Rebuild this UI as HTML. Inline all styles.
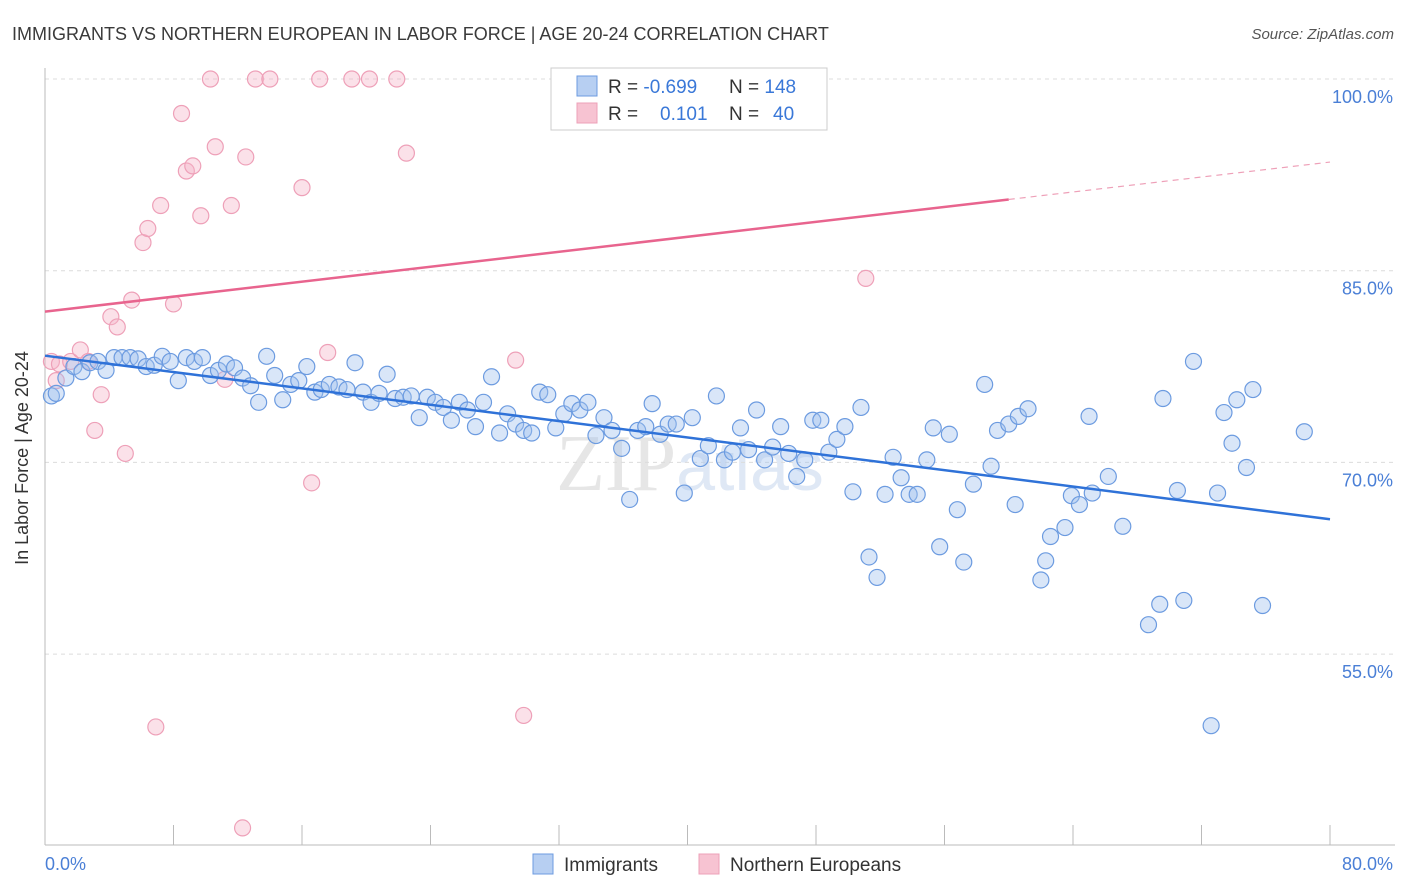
<!DOCTYPE html>
<html><head><meta charset="utf-8"><style>
body{margin:0;background:#fff;font-family:"Liberation Sans",sans-serif;}
#wrap{position:relative;width:1406px;height:892px;overflow:hidden;}
</style></head><body>
<div id="wrap">
<svg id="svg" width="1406" height="892" xmlns="http://www.w3.org/2000/svg">
<text x="12" y="40" font-size="18" fill="#3a3a3a">IMMIGRANTS VS NORTHERN EUROPEAN IN LABOR FORCE | AGE 20-24 CORRELATION CHART</text>
<text x="1394" y="39" font-size="15" fill="#555" font-style="italic" text-anchor="end">Source: ZipAtlas.com</text>
<text x="690" y="490" font-size="80" fill="#e6e6e6" text-anchor="middle" font-family="Liberation Serif,serif">ZIP<tspan fill="#dfe8f5" font-family="Liberation Sans,sans-serif" font-size="70">atlas</tspan></text>
<g id="grid"></g><g id="axes"></g><g id="pink"></g><g id="blue"></g><g id="trend"></g>
<text x="28" y="458" font-size="18" fill="#333" text-anchor="middle" transform="rotate(-90 28 458)">In Labor Force | Age 20-24</text>
<g>
<rect x="551" y="68" width="276" height="62" fill="#fff" stroke="#ccc"/>
<rect x="577" y="76" width="20" height="20" fill="#b7cff2" stroke="#6c9be0"/>
<rect x="577" y="103" width="20" height="20" fill="#f7c3d2" stroke="#eea0b8"/>
<text x="608" y="93" font-size="19" fill="#333">R = <tspan fill="#3a78d8">-0.699</tspan></text>
<text x="729" y="93" font-size="19" fill="#333">N = <tspan fill="#3a78d8">148</tspan></text>
<text x="608" y="120" font-size="19" fill="#333">R = <tspan fill="#3a78d8" x="660">0.101</tspan></text>
<text x="729" y="120" font-size="19" fill="#333">N = <tspan fill="#3a78d8" x="773">40</tspan></text>
</g>
<g>
<rect x="533" y="854" width="20" height="20" fill="#b7cff2" stroke="#6c9be0"/>
<text x="564" y="871" font-size="19" fill="#333">Immigrants</text>
<rect x="699" y="854" width="20" height="20" fill="#f7c3d2" stroke="#eea0b8"/>
<text x="730" y="871" font-size="19" fill="#333">Northern Europeans</text>
</g>
</svg></div>
<script>
const NS="http://www.w3.org/2000/svg";
const yTicks=[100,85,70,55];
const yTickLabels=["100.0%","85.0%","70.0%","55.0%"];
const xTicks=[8,16,24,32,40,48,56,64,72,80];
const blueX=[0.4,0.7,1.3,1.8,2.3,2.8,3.3,3.8,4.3,4.8,5.3,5.8,6.3,6.8,7.3,7.8,8.3,8.8,9.3,9.8,10.3,10.8,11.3,11.8,12.3,12.8,13.3,13.8,14.3,14.8,15.3,15.8,16.3,16.8,17.2,17.7,18.3,18.8,19.3,19.8,20.3,20.8,21.3,21.8,22.3,22.8,23.3,23.8,24.3,24.8,25.3,25.8,26.3,26.8,27.3,27.8,28.3,28.8,29.3,29.8,30.3,30.8,31.3,31.8,32.3,32.8,33.3,33.8,34.3,34.8,35.3,35.9,36.4,36.9,37.4,37.8,38.3,38.8,39.3,39.8,40.3,40.8,41.3,41.8,42.3,42.8,43.3,43.8,44.3,44.8,45.3,45.8,46.3,46.8,47.3,47.8,48.3,48.8,49.3,49.8,50.3,50.8,51.3,51.8,52.3,52.8,53.3,53.8,54.3,54.9,55.3,55.7,56.3,56.8,57.2,57.8,58.5,58.9,59.3,60.0,60.4,60.6,61.2,62.0,62.3,62.6,63.5,63.9,64.4,65.0,65.2,66.2,67.1,68.7,69.4,69.6,70.5,70.9,71.5,72.6,73.0,73.4,73.9,74.2,74.8,75.2,75.8,78.4];
const blueY=[75.2,75.4,76.6,77.5,77.1,77.8,77.9,77.2,78.2,78.2,78.2,78.1,77.5,77.6,78.3,77.9,76.4,78.2,77.9,78.2,76.8,77.2,77.7,77.4,76.6,76.0,74.7,78.3,76.8,74.9,76.1,76.4,77.5,75.5,75.7,76.1,75.9,75.7,77.8,75.5,74.7,75.4,76.9,75.0,75.1,75.2,73.5,75.1,74.7,74.3,73.3,74.7,74.1,72.8,74.7,76.7,72.3,73.8,73.0,72.5,72.3,75.5,75.3,72.7,73.8,74.6,74.1,74.7,72.1,73.5,72.5,71.1,67.1,72.5,72.8,74.6,72.2,73.0,73.0,67.6,73.5,70.3,71.3,75.2,70.2,70.8,72.7,71.0,74.1,70.2,71.2,72.8,70.7,68.9,70.2,73.3,73.3,70.8,71.8,72.8,67.7,74.3,62.6,61.0,67.5,70.4,68.8,67.5,67.5,70.2,72.7,63.4,72.2,66.3,62.2,68.3,76.1,69.7,72.5,73.0,66.7,73.6,74.2,60.8,62.3,64.2,64.9,67.4,66.7,73.6,67.6,68.9,65.0,57.3,58.9,75.0,67.8,59.2,77.9,49.4,67.6,73.9,71.5,74.9,69.6,75.7,58.8,72.4];
const pinkX=[0.4,0.7,0.9,1.6,2.2,2.7,3.1,3.5,4.1,4.5,5.0,5.4,6.1,6.4,6.9,7.2,8.0,8.5,8.8,9.2,9.7,10.3,10.6,11.2,11.6,12.3,12.5,13.1,14.0,16.0,16.6,17.1,17.6,19.1,20.2,21.9,22.5,29.3,29.8,51.1];
const pinkY=[77.9,76.4,77.7,77.9,78.8,77.9,72.5,75.3,81.4,80.6,70.7,82.7,87.2,88.3,49.3,90.1,82.4,97.3,92.8,93.2,89.3,100,94.7,76.5,90.1,41.4,93.9,100,100,91.5,68.4,100,78.6,100,100,100,94.2,78.0,50.2,84.4];
const blueTrend=[78.35,65.55]; // y at x=0 and x=80
const pinkTrend=[81.8,93.5];   // y at x=0 and x=80
const pinkSolidEnd=60;

const X=v=>45+v*(1285/80);
const Y=v=>79+(100-v)*12.78;
function mk(tag,attrs,parent){const e=document.createElementNS(NS,tag);for(const k in attrs)e.setAttribute(k,attrs[k]);document.getElementById(parent).appendChild(e);return e;}

yTicks.forEach((t,i)=>{
  const l=mk('line',{x1:45,x2:1395,y1:Y(t),y2:Y(t),stroke:'#dcdcdc','stroke-dasharray':'4,4'},'grid');
  
  
  const tx=mk('text',{x:1393,y:Y(t)+24,'font-size':18,fill:'#4a7fd6','text-anchor':'end'},'grid');
  tx.textContent=yTickLabels[i];
  
  
});
let a=mk('line',{x1:45,x2:45,y1:68,y2:845,stroke:'#bbb'},'axes');


a=mk('line',{x1:45,x2:1395,y1:845,y2:845,stroke:'#bbb'},'axes');


xTicks.forEach(t=>{
  const l=mk('line',{x1:X(t),x2:X(t),y1:825,y2:845,stroke:'#bbb'},'axes');
  
  
});
let t0=mk('text',{x:45,y:870,'font-size':18,fill:'#4a7fd6'},'axes');t0.textContent='0.0%';


let t1=mk('text',{x:1393,y:870,'font-size':18,fill:'#4a7fd6','text-anchor':'end'},'axes');t1.textContent='80.0%';



pinkX.forEach((x,i)=>{
  const c=mk('circle',{cx:X(x),cy:Y(pinkY[i]),r:8,fill:'rgba(246,180,200,0.4)',stroke:'#eea0b8','stroke-width':1.2},'pink');
  
  
});
blueX.forEach((x,i)=>{
  const c=mk('circle',{cx:X(x),cy:Y(blueY[i]),r:8,fill:'rgba(160,192,238,0.4)',stroke:'#6c9be0','stroke-width':1.2},'blue');
  
  
});
let bl=mk('line',{x1:X(0),y1:Y(blueTrend[0]),x2:X(80),y2:Y(blueTrend[1]),stroke:'#2f72d8','stroke-width':2.5},'trend');


const pm=pinkTrend[0]+(pinkTrend[1]-pinkTrend[0])*pinkSolidEnd/80;
let pl=mk('line',{x1:X(0),y1:Y(pinkTrend[0]),x2:X(pinkSolidEnd),y2:Y(pm),stroke:'#e8648e','stroke-width':2.5},'trend');


let pd=mk('line',{x1:X(pinkSolidEnd),y1:Y(pm),x2:X(80),y2:Y(pinkTrend[1]),stroke:'#eea0b8','stroke-width':1.2,'stroke-dasharray':'6,5'},'trend');


</script>
</body></html>
